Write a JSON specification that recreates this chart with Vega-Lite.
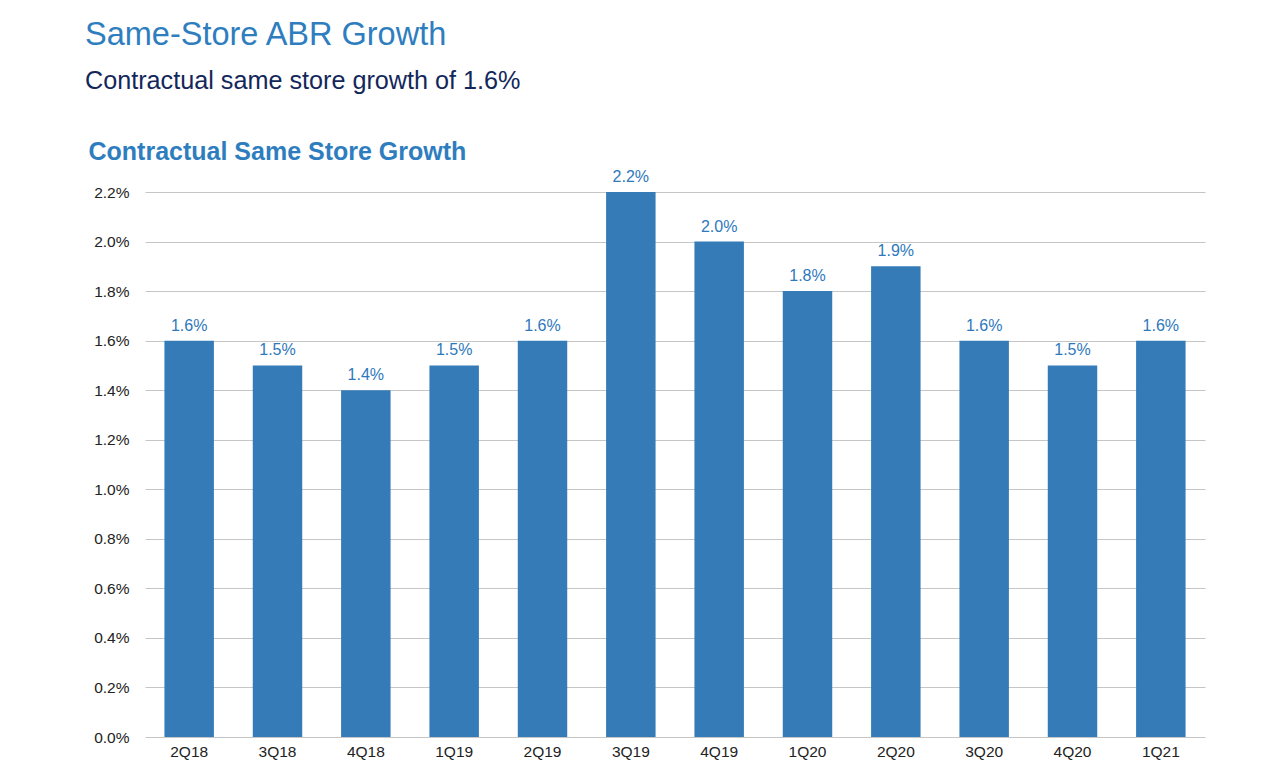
{
  "$schema": "https://vega.github.io/schema/vega-lite/v6.json",
  "width": 1060,
  "height": 545,
  "autosize": {"type": "none"},
  "padding": {"left": 145, "top": 192, "right": 75, "bottom": 45},
  "background": "white",
  "config": {
    "font": "Liberation Sans",
    "view": {"stroke": null}
  },
  "title": {
    "text": "Same-Store ABR Growth",
    "subtitle": "Contractual same store growth of 1.6%",
    "anchor": "start",
    "frame": "group",
    "dx": -60,
    "fontSize": 32.5,
    "fontWeight": "normal",
    "color": "#2E7EBF",
    "subtitleFontSize": 25.2,
    "subtitleColor": "#13275B",
    "subtitlePadding": 17,
    "offset": 45
  },
  "data": {
    "values": [
      {"quarter": "2Q18", "growth": 0.016},
      {"quarter": "3Q18", "growth": 0.015},
      {"quarter": "4Q18", "growth": 0.014},
      {"quarter": "1Q19", "growth": 0.015},
      {"quarter": "2Q19", "growth": 0.016},
      {"quarter": "3Q19", "growth": 0.022},
      {"quarter": "4Q19", "growth": 0.020},
      {"quarter": "1Q20", "growth": 0.018},
      {"quarter": "2Q20", "growth": 0.019},
      {"quarter": "3Q20", "growth": 0.016},
      {"quarter": "4Q20", "growth": 0.015},
      {"quarter": "1Q21", "growth": 0.016}
    ]
  },
  "encoding": {
    "x": {
      "field": "quarter",
      "type": "nominal",
      "sort": null,
      "scale": {"paddingInner": 0.44, "paddingOuter": 0.22},
      "axis": {
        "title": null,
        "labelAngle": 0,
        "labelFontSize": 15.5,
        "labelColor": "#222222",
        "labelPadding": 7,
        "ticks": false,
        "domain": false
      }
    },
    "y": {
      "field": "growth",
      "type": "quantitative",
      "scale": {"domain": [0, 0.022], "nice": false},
      "axis": {
        "title": "Contractual Same Store Growth",
        "titleAngle": 0,
        "titleAlign": "left",
        "titleBaseline": "alphabetic",
        "titleX": -57,
        "titleY": -33,
        "titleFontSize": 25,
        "titleFontWeight": "bold",
        "titleColor": "#2E7EBF",
        "format": ".1%",
        "values": [0, 0.002, 0.004, 0.006, 0.008, 0.01, 0.012, 0.014, 0.016, 0.018, 0.02, 0.022],
        "labelFontSize": 15.5,
        "labelColor": "#222222",
        "labelPadding": 16,
        "ticks": false,
        "domain": false,
        "grid": true,
        "gridColor": "#C6C6C6",
        "gridWidth": 1.2
      }
    }
  },
  "layer": [
    {
      "mark": {"type": "bar", "color": "#347BB7"}
    },
    {
      "mark": {"type": "text", "dy": -7, "fontSize": 16, "color": "#2E78BC", "baseline": "bottom"},
      "encoding": {
        "text": {"field": "growth", "type": "quantitative", "format": ".1%"}
      }
    }
  ]
}
